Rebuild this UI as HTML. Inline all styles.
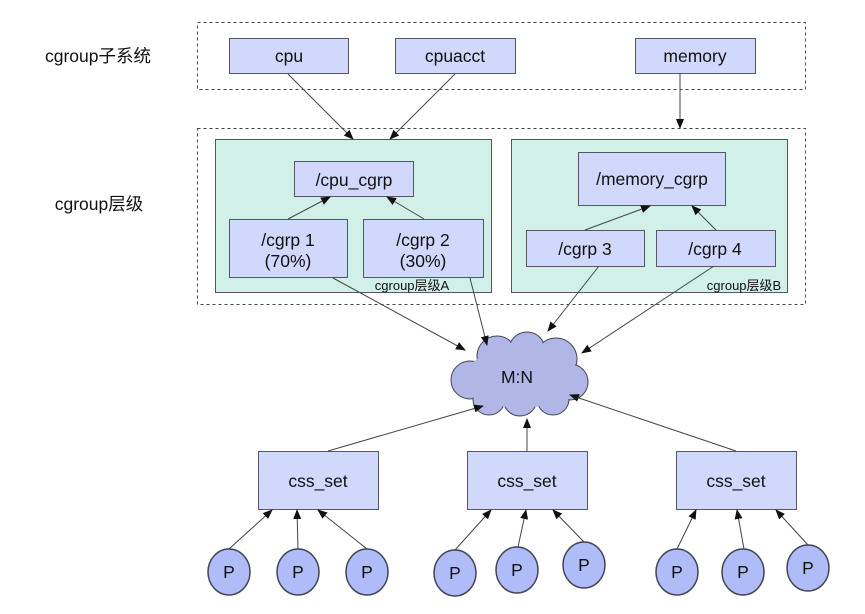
<!DOCTYPE html>
<html><head><meta charset="utf-8"><style>
html,body{margin:0;padding:0;background:#fff;width:865px;height:614px;overflow:hidden}
svg text{font-family:"Liberation Sans","Noto Sans CJK SC",sans-serif;fill:#111}
</style></head><body>
<svg width="865" height="614" viewBox="0 0 865 614" xmlns="http://www.w3.org/2000/svg">
<defs><marker id="a" markerWidth="10" markerHeight="10" refX="9" refY="5" orient="auto" markerUnits="userSpaceOnUse"><path d="M0,1 L10,5 L0,9 z" fill="#111"/></marker></defs>
<text x="98" y="62" font-size="17.5" text-anchor="middle">cgroup子系统</text>
<text x="99" y="210" font-size="17.5" text-anchor="middle">cgroup层级</text>
<g fill="none" stroke="#445" stroke-dasharray="3,3" stroke-width="1">
<rect x="197.5" y="22.5" width="608" height="67"/>
<rect x="197.5" y="128.5" width="608" height="176"/>
</g>
<g fill="#d1f0e8" stroke="#556" stroke-width="1">
<rect x="215.5" y="139.5" width="276" height="153"/>
<rect x="511.5" y="139.5" width="276" height="153"/>
</g>
<g fill="#d0d8fc" stroke="#556" stroke-width="1">
<rect x="229.5" y="38.5" width="119" height="35"/>
<rect x="395.5" y="38.5" width="120" height="35"/>
<rect x="635.5" y="38.5" width="120" height="35"/>
<rect x="294.5" y="161.5" width="119" height="35"/>
<rect x="229.5" y="219.5" width="118" height="58"/>
<rect x="363.5" y="219.5" width="120" height="58"/>
<rect x="578.5" y="152.5" width="147" height="53"/>
<rect x="526.5" y="230.5" width="118" height="36"/>
<rect x="656.5" y="230.5" width="119" height="36"/>
<rect x="258.5" y="451.5" width="120" height="58"/>
<rect x="467.5" y="451.5" width="120" height="58"/>
<rect x="676.5" y="451.5" width="120" height="58"/>
</g>
<g font-size="17.5" text-anchor="middle">
<text x="289" y="62">cpu</text>
<text x="455" y="62">cpuacct</text>
<text x="695" y="62">memory</text>
<text x="354" y="186">/cpu_cgrp</text>
<text x="288" y="246">/cgrp 1</text><text x="288" y="267">(70%)</text>
<text x="423" y="246">/cgrp 2</text><text x="423" y="267">(30%)</text>
<text x="652" y="185">/memory_cgrp</text>
<text x="585" y="255">/cgrp 3</text>
<text x="715" y="255">/cgrp 4</text>
<text x="318" y="487">css_set</text>
<text x="527" y="487">css_set</text>
<text x="736" y="487">css_set</text>
</g>
<text x="412" y="290" font-size="13" text-anchor="middle">cgroup层级A</text>
<text x="744" y="290" font-size="13" text-anchor="middle">cgroup层级B</text>
<g stroke="#445" stroke-width="1" fill="#b0b6e6">
<circle cx="470" cy="380" r="19"/><circle cx="497" cy="356" r="20"/><circle cx="527" cy="350" r="18"/><circle cx="556" cy="359" r="21"/><circle cx="570" cy="382" r="18"/><circle cx="553" cy="399" r="16"/><circle cx="520" cy="399" r="17"/><circle cx="489" cy="399" r="16"/>
</g>
<g fill="#b0b6e6"><ellipse cx="520" cy="378" rx="55" ry="30"/><circle cx="470" cy="380" r="18"/><circle cx="497" cy="356" r="19"/><circle cx="527" cy="350" r="17"/><circle cx="556" cy="359" r="20"/><circle cx="570" cy="382" r="17"/><circle cx="553" cy="399" r="15"/><circle cx="520" cy="399" r="16"/><circle cx="489" cy="399" r="15"/></g>
<text x="517" y="383" font-size="17.5" text-anchor="middle">M:N</text>
<g stroke="#445" stroke-width="1.5" fill="#b0bcf8">
<ellipse cx="229" cy="572" rx="21" ry="23"/><ellipse cx="298" cy="572" rx="21" ry="23"/><ellipse cx="367" cy="572" rx="21" ry="23"/>
<ellipse cx="455" cy="573" rx="21" ry="23"/><ellipse cx="517" cy="570" rx="21" ry="23"/><ellipse cx="584" cy="565" rx="21" ry="23"/>
<ellipse cx="677" cy="572" rx="21" ry="23"/><ellipse cx="743" cy="572" rx="21" ry="23"/><ellipse cx="808" cy="568" rx="21" ry="23"/>
</g>
<g font-size="17.5" text-anchor="middle">
<text x="229" y="578">P</text><text x="298" y="578">P</text><text x="367" y="578">P</text>
<text x="455" y="579">P</text><text x="517" y="576">P</text><text x="584" y="571">P</text>
<text x="677" y="578">P</text><text x="743" y="578">P</text><text x="808" y="574">P</text>
</g>
<g stroke="#444" stroke-width="1" marker-end="url(#a)">
<line x1="288" y1="74" x2="353" y2="139"/>
<line x1="455" y1="74" x2="390" y2="139"/>
<line x1="680" y1="74" x2="680" y2="128"/>
<line x1="288" y1="219" x2="330" y2="197"/>
<line x1="424" y1="219" x2="387" y2="197"/>
<line x1="585" y1="230" x2="650" y2="206"/>
<line x1="716" y1="230" x2="692" y2="206"/>
<line x1="333" y1="278" x2="465" y2="350"/>
<line x1="470" y1="278" x2="487" y2="345"/>
<line x1="599" y1="266" x2="548" y2="331"/>
<line x1="714" y1="266" x2="582" y2="353"/>
<line x1="328" y1="451" x2="483" y2="406"/>
<line x1="527" y1="451" x2="527" y2="419"/>
<line x1="736" y1="451" x2="570" y2="395"/>
<line x1="229" y1="549" x2="272" y2="510"/><line x1="298" y1="549" x2="297" y2="510"/><line x1="367" y1="549" x2="318" y2="510"/>
<line x1="455" y1="550" x2="491" y2="510"/><line x1="518" y1="547" x2="526" y2="510"/><line x1="584" y1="542" x2="553" y2="510"/>
<line x1="677" y1="549" x2="696" y2="510"/><line x1="744" y1="549" x2="737" y2="510"/><line x1="808" y1="545" x2="776" y2="510"/>
</g>
</svg>
</body></html>
